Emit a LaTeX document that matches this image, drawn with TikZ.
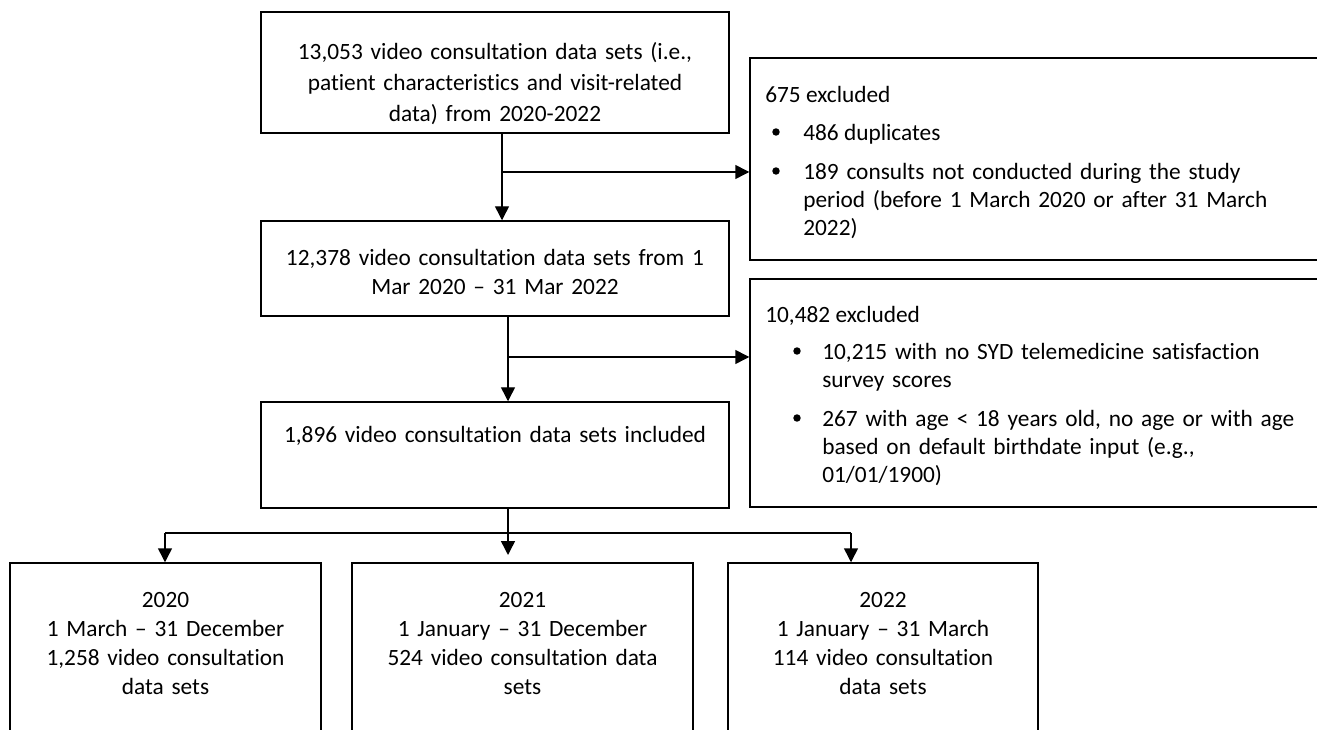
\documentclass[tikz,border=0pt]{standalone}
\usepackage{fontspec}
\setmainfont{Carlito}[Ligatures=NoCommon]
\usetikzlibrary{arrows.meta}
\begin{document}
\begin{tikzpicture}[x=0.75pt,y=-0.75pt,
  boxnode/.style={draw,line width=1.1pt,inner sep=0pt,rectangle},
  txtc/.style={inner sep=0pt,anchor=base,align=center,font=\fontsize{17.5}{23.25}\selectfont},
  txtl/.style={inner sep=0pt,anchor=base west,align=left,font=\fontsize{17.5}{21}\selectfont},
  bul/.style={circle,fill,inner sep=0pt,minimum size=5.6pt},
  conn/.style={line width=1.1pt},
  arr/.style={line width=1.1pt,-{Triangle[length=10.5pt,width=10.5pt]}}]
\path[use as bounding box] (0,0) rectangle (1317,730);
\clip (0,0) rectangle (1317,730);

% main boxes
\node[boxnode,minimum width=351pt,minimum height=90.75pt] (b1) at (495,72.5) {};
\node[boxnode,minimum width=351pt,minimum height=71.25pt] (b2) at (495,268.5) {};
\node[boxnode,minimum width=351pt,minimum height=79.5pt] (b3) at (495,455) {};
\node[txtc,text width=348pt] (b1t) at (495,59.5) {13,053 video consultation data sets (i.e.,\\ patient characteristics and visit-related\\ data) from 2020-2022};
\node[txtc,text width=348pt,font=\fontsize{17.5}{21.75}\selectfont] (b2t) at (495,265.5) {12,378 video consultation data sets from 1\\ Mar 2020 -- 31 Mar 2022};
\node[txtc,text width=348pt] (b3t) at (495,443) {1,896 video consultation data sets included};

% exclusion boxes
\node[boxnode,minimum width=442.5pt,minimum height=151.5pt] (e1) at (1045,159) {};
\node[boxnode,minimum width=442.5pt,minimum height=171pt] (e2) at (1045,393) {};

\node[txtl] (e1h) at (765,102.5) {675 excluded};
\node[bul] (e1b1) at (776,132) {};
\node[txtl] (e1i1) at (803,140.5) {486 duplicates};
\node[bul] (e1b2) at (776,171) {};
\node[txtl,text width=480pt] (e1i2) at (803,179.5) {189 consults not conducted during the study\\ period (before 1 March 2020 or after 31 March\\ 2022)};

\node[txtl] (e2h) at (765,322.5) {10,482 excluded};
\node[bul] (e2b1) at (797,351) {};
\node[txtl,text width=480pt] (e2i1) at (822,359.5) {10,215 with no SYD telemedicine satisfaction\\ survey scores};
\node[bul] (e2b2) at (797,418) {};
\node[txtl,text width=480pt] (e2i2) at (822,426.5) {267 with age < 18 years old, no age or with age\\ based on default birthdate input (e.g.,\\ 01/01/1900)};

% bottom boxes
\node[boxnode,minimum width=233.25pt,minimum height=150pt] (y0) at (165.5,663) {};
\node[boxnode,minimum width=255.75pt,minimum height=150pt] (y1) at (522.5,663) {};
\node[boxnode,minimum width=232.5pt,minimum height=150pt] (y2) at (883,663) {};
\node[txtc,text width=230pt,font=\fontsize{17.5}{21.75}\selectfont] (y0t) at (165.5,607.5) {2020\\ 1 March -- 31 December\\ 1,258 video consultation\\ data sets};
\node[txtc,text width=252pt,font=\fontsize{17.5}{21.75}\selectfont] (y1t) at (522.5,607.5) {2021\\ 1 January -- 31 December\\ 524 video consultation data\\ sets};
\node[txtc,text width=230pt,font=\fontsize{17.5}{21.75}\selectfont] (y2t) at (883,607.5) {2022\\ 1 January -- 31 March\\ 114 video consultation\\ data sets};

% connector coordinates
\coordinate (c1) at (502,0);
\coordinate (c2) at (508,0);
\coordinate (j1) at (502,172);
\coordinate (j2) at (508,357);
\coordinate (sl) at (165,533);
\coordinate (sr) at (851,533);
\coordinate (mtip) at (508,555);

\draw[arr] (c1 |- b1.south) -- (c1 |- b2.north);
\draw[arr] (j1) -- (j1 -| e1.west);
\draw[arr] (c2 |- b2.south) -- (c2 |- b3.north);
\draw[arr] (j2) -- (j2 -| e2.west);
\draw[arr] (c2 |- b3.south) -- (mtip);
\draw[conn] (sl) -- (sr);
\draw[arr] (sl) -- (sl |- y0.north);
\draw[arr] (sr) -- (sr |- y2.north);
\end{tikzpicture}
\end{document}
